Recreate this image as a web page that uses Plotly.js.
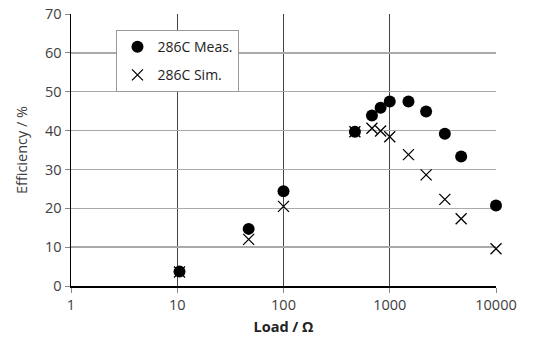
<!DOCTYPE html>
<html>
<head>
<meta charset="utf-8">
<script src="https://cdn.plot.ly/plotly-3.0.1.min.js"></script>
<style>html,body{margin:0;padding:0;background:#fff}#chart{width:542px;height:340px}</style>
</head>
<body>
<div id="chart"></div>
<script>
const loadOhm = [10.5, 47, 100, 470, 680, 820, 1000, 1500, 2200, 3300, 4700, 10000];
const measEff = [3.7, 14.7, 24.4, 39.7, 43.9, 45.9, 47.5, 47.5, 44.9, 39.2, 33.3, 20.7];
const simEff  = [3.6, 12.0, 20.5, 39.7, 40.6, 39.9, 38.4, 33.8, 28.6, 22.3, 17.3, 9.6];
const xTickVals = [1, 10, 100, 1000, 10000];
const xTickText = ['1', '10', '100', '1000', '10000'];

const font = "'Open Sans', 'Noto Sans', sans-serif";
const traces = [
  {x: loadOhm, y: measEff, name: '286C Meas.', mode: 'markers', type: 'scatter',
   legendgroup: 'a', cliponaxis: false,
   marker: {symbol: 'circle', size: 12, color: '#000'}},
  {x: loadOhm, y: simEff, name: '286C Sim.', mode: 'markers', type: 'scatter',
   legendgroup: 'b', cliponaxis: false,
   marker: {symbol: 'x-thin-open', size: 11, color: '#000', line: {width: 1.3, color: '#000'}}}
];
const layout = {
  width: 542, height: 340,
  margin: {l: 71, r: 46, t: 14, b: 54},
  paper_bgcolor: '#fff', plot_bgcolor: '#fff',
  font: {family: font, color: '#404040', size: 14.5},
  showlegend: true,
  legend: {x: 0.107, y: 0.941, xanchor: 'left', yanchor: 'top',
    bgcolor: '#fff', bordercolor: '#999', borderwidth: 1,
    font: {family: font, size: 14, color: '#222'},
    traceorder: 'grouped', tracegroupgap: 7},
  xaxis: {type: 'log', range: [0, 4], tickvals: xTickVals, ticktext: xTickText,
    showgrid: true, gridcolor: '#444', gridwidth: 1,
    showline: true, linecolor: '#000', linewidth: 1.5,
    ticks: 'outside', ticklen: 5, tickcolor: '#888',
    tickfont: {family: font, size: 14.5, color: '#404040'},
    zeroline: false,
    title: {text: '<b>Load / Ω</b>', font: {family: font, size: 14.5, color: '#222'}, standoff: 9}},
  yaxis: {range: [0, 70], dtick: 10,
    showgrid: true, gridcolor: '#aaa', gridwidth: 1.3,
    showline: true, linecolor: '#000', linewidth: 1.5,
    ticks: 'outside', ticklen: 5, tickcolor: '#888',
    tickfont: {family: font, size: 14.5, color: '#404040'},
    zeroline: false,
    title: {text: 'Efficiency / %', font: {family: font, size: 14.5, color: '#404040'}, standoff: 14}}
};
Plotly.newPlot('chart', traces, layout, {displayModeBar: false, staticPlot: true});
</script>
</body>
</html>
